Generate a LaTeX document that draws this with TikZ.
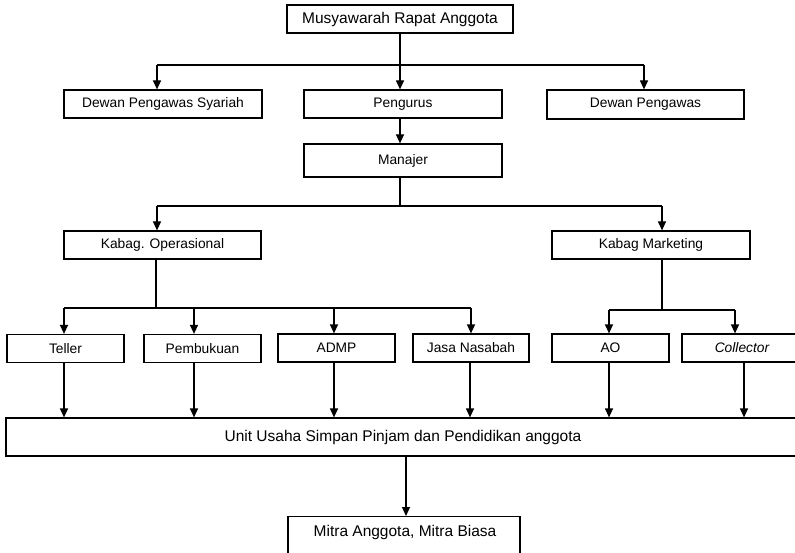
\documentclass[tikz,border=0pt]{standalone}
\usepackage{fontspec}
\setmainfont{Liberation Sans}
\usetikzlibrary{arrows.meta}
\begin{document}
\begin{tikzpicture}[x=1pt,y=-1pt,
  box/.style={draw,line width=1.2pt,rectangle,inner sep=0pt,minimum height=28pt,font=\fontsize{13.8}{16}\selectfont},
  bigtxt/.style={font=\fontsize{15.5}{18}\selectfont},
  conn/.style={line width=1.2pt},
  arr/.style={line width=1.2pt,-{Triangle[length=9pt,width=8pt]}}]
\useasboundingbox (0,0) rectangle (795,553);
\clip (0,0) rectangle (795,553);
% nodes
\node[box,minimum width=226pt,bigtxt] (mra) at (400,19) {Musyawarah Rapat Anggota};
\node[box,minimum width=198pt] (dps) at (163,104) {Dewan Pengawas Syariah};
\node[box,minimum width=198pt] (peng) at (403,104) {Pengurus};
\node[box,minimum width=197pt,minimum height=29pt] (dp) at (645.5,104.5) {Dewan Pengawas};
\node[box,minimum width=198pt,minimum height=33pt] (man) at (403,160.5) {Manajer};
\node[box,minimum width=197pt] (kop) at (162.5,245) {Kabag. Operasional};
\node[box,minimum width=198pt] (kmk) at (651,245) {Kabag Marketing};
\node[box,minimum width=117pt] (tel) at (65.5,348.5) {Teller};
\node[box,minimum width=117pt] (pem) at (202.5,348.5) {Pembukuan};
\node[box,minimum width=117pt] (adm) at (336.5,348) {ADMP};
\node[box,minimum width=116pt] (jas) at (471,348) {Jasa Nasabah};
\node[box,minimum width=117pt] (ao) at (610.5,348) {AO};
\node[box,minimum width=120pt] (col) at (742,348) {\itshape Collector};
\node[box,minimum width=794pt,minimum height=38pt,bigtxt] (unit) at (403,437) {Unit Usaha Simpan Pinjam dan Pendidikan anggota};
\node[box,minimum width=232pt,minimum height=60pt,anchor=north] (mit) at (404,516) {};
\node[bigtxt,inner sep=0pt] (mittxt) at (405,532) {Mitra Anggota, Mitra Biasa};
% connectors top
\coordinate (h1l) at (157,65);
\coordinate (h1r) at (644,65);
\draw[conn] (h1l) -- (h1r);
\draw[arr] (h1l) -- (h1l |- dps.north);
\draw[arr] (h1r) -- (h1r |- dp.north);
\draw[arr] (mra.south) -- (mra.south |- peng.north);
\draw[arr] (peng.south -| mra.south) -- (man.north -| mra.south);
% manajer to kabag
\coordinate (h2m) at (400,206);
\coordinate (h2l) at (157,206);
\coordinate (h2r) at (662,206);
\draw[conn] (man.south -| h2m) -- (h2m);
\draw[conn] (h2l) -- (h2r);
\draw[arr] (h2l) -- (h2l |- kop.north);
\draw[arr] (h2r) -- (h2r |- kmk.north);
% operasional
\coordinate (h3m) at (156,308);
\coordinate (h3a) at (64,308);
\coordinate (h3b) at (194,308);
\coordinate (h3c) at (334,308);
\coordinate (h3d) at (471,308);
\draw[conn] (kop.south -| h3m) -- (h3m);
\draw[conn] (h3a) -- (h3d);
\draw[arr] (h3a) -- (h3a |- tel.north);
\draw[arr] (h3b) -- (h3b |- pem.north);
\draw[arr] (h3c) -- (h3c |- adm.north);
\draw[arr] (h3d) -- (h3d |- jas.north);
% marketing
\coordinate (h4m) at (662,310);
\coordinate (h4a) at (609,310);
\coordinate (h4b) at (735,310);
\draw[conn] (kmk.south -| h4m) -- (h4m);
\draw[conn] (h4a) -- (h4b);
\draw[arr] (h4a) -- (h4a |- ao.north);
\draw[arr] (h4b) -- (h4b |- col.north);
% to unit
\coordinate (b1) at (64,0);
\coordinate (b2) at (194,0);
\coordinate (b3) at (334,0);
\coordinate (b4) at (470,0);
\coordinate (b5) at (609,0);
\coordinate (b6) at (744,0);
\draw[arr] (tel.south -| b1) -- (unit.north -| b1);
\draw[arr] (pem.south -| b2) -- (unit.north -| b2);
\draw[arr] (adm.south -| b3) -- (unit.north -| b3);
\draw[arr] (jas.south -| b4) -- (unit.north -| b4);
\draw[arr] (ao.south -| b5) -- (unit.north -| b5);
\draw[arr] (col.south -| b6) -- (unit.north -| b6);
% unit to mitra
\coordinate (b7) at (406,0);
\draw[arr] (unit.south -| b7) -- (mit.north -| b7);
\end{tikzpicture}
\end{document}
